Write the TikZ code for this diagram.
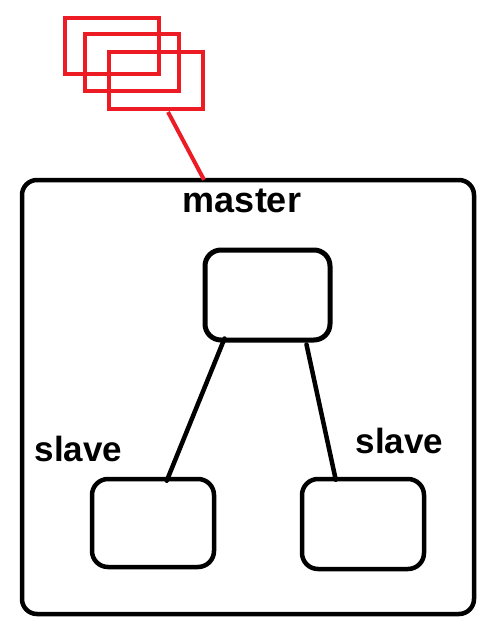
\documentclass[tikz,border=0pt]{standalone}
\usepackage{fontspec}
\setmainfont{Liberation Sans}
\definecolor{pred}{HTML}{ED1C24}
\begin{document}
\begin{tikzpicture}[x=1pt,y=1pt,
  rbox/.style={draw=pred, line width=4pt, inner sep=0pt, minimum width=94pt, minimum height=57pt},
  bbox/.style={draw=black, line width=4.5pt, rounded corners=16pt, inner sep=0pt},
  lbl/.style={font=\bfseries\fontsize{36}{40}\selectfont, anchor=base, inner sep=0pt},
  slbl/.style={font=\bfseries\fontsize{35}{40}\selectfont, anchor=base, inner sep=0pt},
  conn/.style={line width=4.5pt, line cap=round}]
\useasboundingbox (0,0) rectangle (501,-640);
\node[bbox, rounded corners=15pt, minimum width=452pt, minimum height=434pt] (big) at (248,-397) {};
\node[rbox, minimum height=56pt] (r1) at (112,-46) {};
\node[rbox] (r2) at (132,-62.5) {};
\node[rbox] (r3) at (156,-80.5) {};
\draw[draw=pred, line width=4pt] ([xshift=12pt,yshift=-1pt]r3.south) -- ([xshift=-44pt,yshift=-2pt]big.north);
\node[lbl] (tm) at (242,-212) {master};
\node[bbox, line width=5pt, minimum width=125pt, minimum height=90pt] (m) at (267.5,-295) {};
\node[bbox, minimum width=122pt, minimum height=88pt] (sl) at (153,-523) {};
\node[bbox, minimum width=122pt, minimum height=90pt] (sr) at (363,-524) {};
\node[slbl] (tl) at (78.5,-461) {slave};
\node[slbl] (tr) at (399.5,-453) {slave};
\draw[conn] ([xshift=22pt,yshift=4pt]m.south west) -- ([xshift=77pt,yshift=-4pt]sl.north west);
\draw[conn] ([xshift=-26pt,yshift=-2pt]m.south east) -- ([xshift=36pt,yshift=-3pt]sr.north west);
\end{tikzpicture}
\end{document}
